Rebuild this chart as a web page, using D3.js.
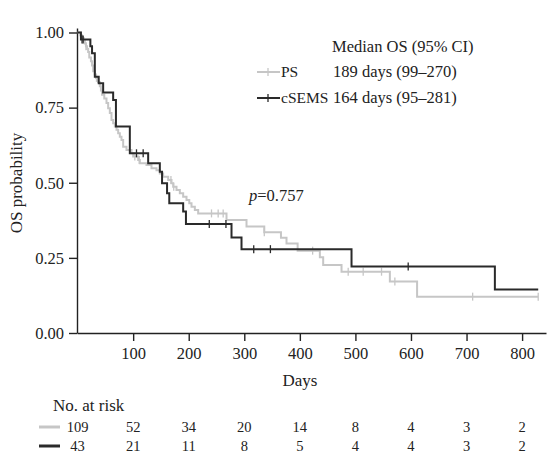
<!DOCTYPE html>
<html><head><meta charset="utf-8">
<script src="https://cdn.jsdelivr.net/npm/d3@7"></script>
<style>body{margin:0;background:#fff} text{font-family:"Liberation Serif","DejaVu Serif",serif;fill:#222}</style>
</head><body><svg id="c" width="556" height="471"></svg>
<script>
// ---- data ----
const psTimes = [5,8,11,13,15,17,19,21,24,26,28,31,33,37,40,42,44,48,52,55,58,61,64,67,70,73,76,79,82,88,97,100,109,112,124,133,142,148,154,163,169,172,178,184,190,196,201,205,211,217,268,304,336,366,376,396,436,442,475,562,611];
const psSurv  = [0.991,0.982,0.972,0.963,0.954,0.945,0.935,0.917,0.904,0.890,0.871,0.860,0.849,0.835,0.821,0.807,0.793,0.780,0.765,0.748,0.732,0.709,0.698,0.687,0.676,0.665,0.653,0.642,0.620,0.609,0.598,0.587,0.576,0.565,0.559,0.548,0.542,0.531,0.520,0.509,0.498,0.487,0.476,0.465,0.453,0.443,0.432,0.420,0.409,0.398,0.376,0.354,0.335,0.317,0.298,0.274,0.252,0.226,0.204,0.171,0.121];
const psCensor = [15,34,103,111,168,173,241,253,262,336,423,487,514,547,571,711,829];
const psEnd = 829;

const csTimes = [6,23,26,31,38,46,64,69,94,127,148,152,161,165,190,195,277,295,493,751];
const csSurv  = [0.977,0.954,0.931,0.853,0.831,0.800,0.775,0.687,0.598,0.565,0.537,0.498,0.465,0.432,0.404,0.363,0.318,0.279,0.221,0.145];
const csCensor = [8,10,106,118,237,267,317,347,595];
const csEnd = 829;

const xTickValues = [100,200,300,400,500,600,700,800];
const yTickValues = [0,0.25,0.5,0.75,1];
const riskTimes = [0,100,200,300,400,500,600,700,800];
const riskPS = [109,52,34,20,14,8,4,3,2];
const riskCS = [43,21,11,8,5,4,4,3,2];
const seriesNames = ["PS","cSEMS"];
const medianText = ["189 days (99\u2013270)","164 days (95\u2013281)"];

// ---- drawing ----
const svg = d3.select("#c");
const x = d3.scaleLinear().domain([0,800]).range([77.6,522.1]);
const y = d3.scaleLinear().domain([0,1]).range([333,32.5]);
const grey = "#c6c6c6", black = "#2a2a2a";

// axes
const xa = d3.scaleLinear().domain([x.invert(77), x.invert(546)]).range([77,546]);
svg.append("g").attr("transform","translate(0,333)")
  .call(d3.axisBottom(xa).tickValues(xTickValues).tickSize(8).tickSizeOuter(0).tickPadding(6).tickFormat(d3.format("d")))
  .call(g=>{g.selectAll("text").style("font-size","16.5px").attr("fill","#222");
            g.selectAll("line,path").attr("stroke","#222").attr("stroke-width",1.4);});
const ya = d3.scaleLinear().domain([0, y.invert(28)]).range([333,28]);
svg.append("g").attr("transform","translate(77,0)")
  .call(d3.axisLeft(ya).tickValues(yTickValues).tickSize(8).tickSizeOuter(0).tickPadding(5).tickFormat(d3.format(".2f")))
  .call(g=>{g.selectAll("text").style("font-size","16.5px").attr("fill","#222");
            g.selectAll("line,path").attr("stroke","#222").attr("stroke-width",1.4);});

svg.append("text").attr("transform","translate(22,183) rotate(-90)").attr("text-anchor","middle")
  .style("font-size","17px").text("OS probability");
svg.append("text").attr("x",300).attr("y",386).attr("text-anchor","middle").style("font-size","17px").text("Days");

function stepPts(times, surv, end){
  const pts=[[0,1]];
  times.forEach((t,i)=>pts.push([t,surv[i]]));
  pts.push([end, surv[surv.length-1]]);
  return pts;
}
function survAt(times,surv,t){let s=1;times.forEach((tt,i)=>{if(tt<=t)s=surv[i];});return s;}
const line = d3.line().x(d=>x(d[0])).y(d=>y(d[1])).curve(d3.curveStepAfter);

function drawCurve(times,surv,cens,end,col){
  svg.append("path").datum(stepPts(times,surv,end)).attr("d",line)
    .attr("fill","none").attr("stroke",col).attr("stroke-width",2);
  svg.append("g").selectAll("line").data(cens).join("line")
    .attr("x1",d=>x(d)).attr("x2",d=>x(d))
    .attr("y1",d=>y(survAt(times,surv,d))-4).attr("y2",d=>y(survAt(times,surv,d))+4)
    .attr("stroke",col).attr("stroke-width",1.3);
}
drawCurve(psTimes,psSurv,psCensor,psEnd,grey);
drawCurve(csTimes,csSurv,csCensor,csEnd,black);

// p value
const pt = svg.append("text").attr("x",249).attr("y",201).style("font-size","16.5px");
pt.append("tspan").style("font-style","italic").text("p");
pt.append("tspan").text("=0.757");

// legend
svg.append("text").attr("x",332).attr("y",52).style("font-size","16.5px").text("Median OS (95% CI)");
const legY=[77,103], legCol=[grey,black];
seriesNames.forEach((n,i)=>{
  svg.append("line").attr("x1",257).attr("x2",280).attr("y1",legY[i]-5).attr("y2",legY[i]-5)
    .attr("stroke",legCol[i]).attr("stroke-width",2);
  svg.append("line").attr("x1",268).attr("x2",268).attr("y1",legY[i]-9).attr("y2",legY[i]-1)
    .attr("stroke",legCol[i]).attr("stroke-width",1.3);
  svg.append("text").attr("x",281).attr("y",legY[i]).style("font-size","15.5px").text(n);
  svg.append("text").attr("x",333).attr("y",legY[i]).style("font-size","16.5px").text(medianText[i]);
});

// risk table
svg.append("text").attr("x",53).attr("y",411).style("font-size","17px").text("No. at risk");
const rowY=[432,451];
[riskPS,riskCS].forEach((row,i)=>{
  svg.append("line").attr("x1",39).attr("x2",60).attr("y1",rowY[i]-5).attr("y2",rowY[i]-5)
    .attr("stroke",legCol[i]).attr("stroke-width",3);
  svg.append("g").selectAll("text").data(row).join("text")
    .attr("x",(d,j)=>x(riskTimes[j])).attr("y",rowY[i]).attr("text-anchor","middle")
    .style("font-size","14.5px").text(d=>d);
});
</script></body></html>
